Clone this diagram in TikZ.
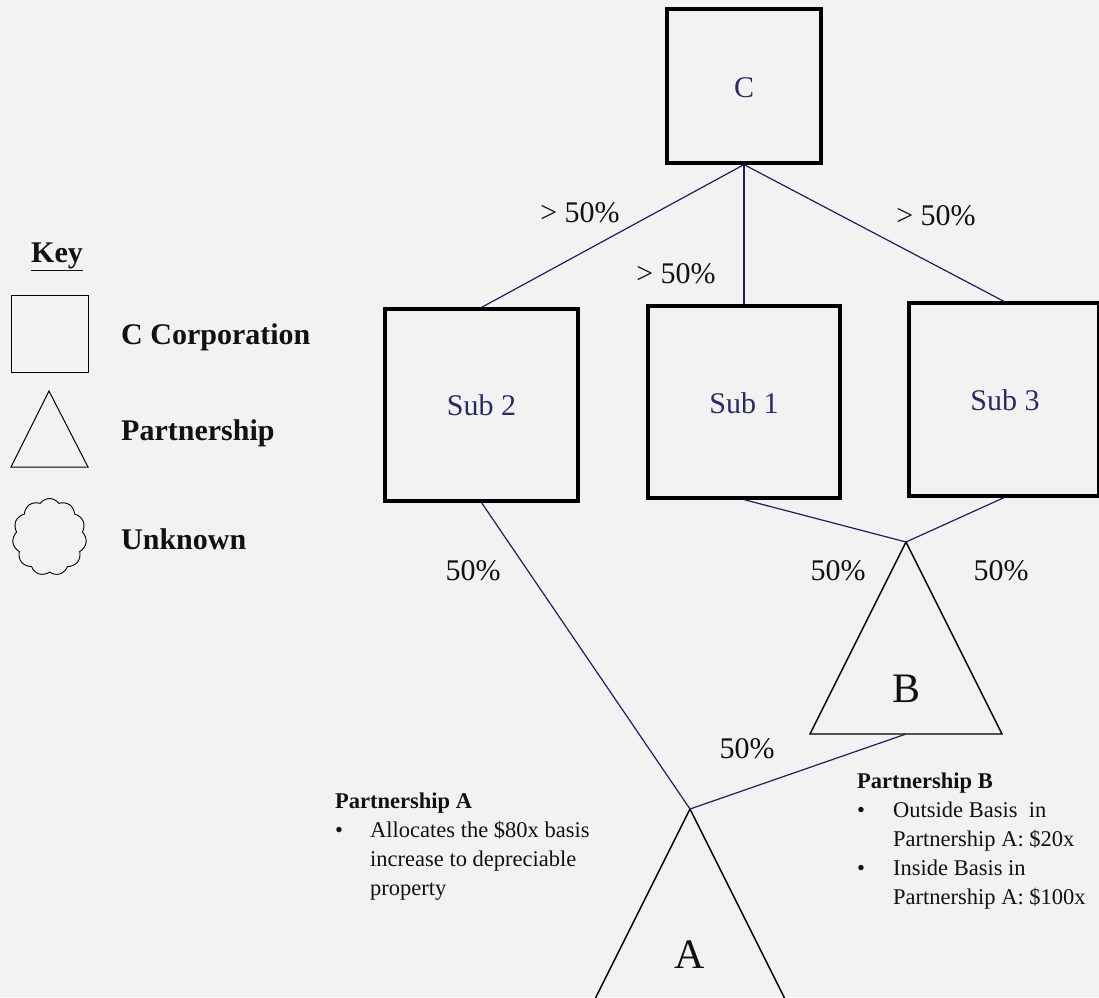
\documentclass[tikz,border=0pt]{standalone}
\usepackage{fontspec}
\setmainfont{Liberation Serif}
\usetikzlibrary{shapes.symbols}
\definecolor{bg}{HTML}{F2F2F2}
\definecolor{navy}{HTML}{1F1F5C}
\definecolor{boxtext}{HTML}{2A2A62}
\definecolor{ink}{HTML}{111111}

\begin{document}
\begin{tikzpicture}[x=1pt,y=-1pt,
  corp/.style={draw=black, line width=3.2pt, inner sep=0pt,
    text=boxtext, font=\fontsize{30}{36}\selectfont},
  link/.style={draw=navy, line width=1.2pt},
  tri/.style={draw=black, line width=1.4pt, line join=miter},
  pct/.style={anchor=base, inner sep=0pt, text=ink, font=\fontsize{30}{36}\selectfont},
  keylbl/.style={anchor=base west, inner sep=0pt, text=ink, font=\fontsize{30}{36}\selectfont\bfseries},
  note/.style={anchor=base west, inner sep=0pt, text=ink, font=\fontsize{22.5}{29}\selectfont},
  letter/.style={anchor=base, inner sep=0pt, text=ink, font=\fontsize{42}{48}\selectfont}]

\fill[bg] (0,0) rectangle (1099,997);
\useasboundingbox (0,0) rectangle (1099,997);
\clip (0,0) rectangle (1099,997);

% key
\node[keylbl] (keyhead) at (31,262) {\underline{Key}};
\node[draw=black, line width=1pt, minimum width=77pt, minimum height=77pt, inner sep=0pt] (keysq) at (49.5,333.5) {};
\node[keylbl] (keycorp) at (121,344) {C Corporation};
\coordinate (ktA) at (49,391);
\coordinate (ktB) at (11,467);
\coordinate (ktC) at (88,467);
\draw[draw=black, line width=1pt] (ktA) -- (ktB) -- (ktC) -- cycle;
\node[keylbl] (keypart) at (121,440) {Partnership};
\node[cloud, cloud puffs=11, cloud puff arc=110, aspect=0.95, draw=black, line width=0.9pt,
      minimum width=74pt, minimum height=77pt, inner sep=0pt] (keycloud) at (49.5,537) {};
\node[keylbl] (keyunk) at (121,549) {Unknown};

% corporations
\node[corp, minimum width=154pt, minimum height=154pt] (C) at (744,86) {};
\node[text=boxtext, anchor=base, inner sep=0pt, font=\fontsize{30}{36}\selectfont] at (744,97) {C};
\node[corp, minimum width=193pt, minimum height=192pt] (S2) at (481.5,405) {};
\node[text=boxtext, anchor=base, inner sep=0pt, font=\fontsize{30}{36}\selectfont] at (481.5,415) {Sub 2};
\node[corp, minimum width=192pt, minimum height=192pt] (S1) at (744,402) {};
\node[text=boxtext, anchor=base, inner sep=0pt, font=\fontsize{30}{36}\selectfont] at (744,413) {Sub 1};
\node[corp, minimum width=190pt, minimum height=193pt] (S3) at (1004,399.5) {};
\node[text=boxtext, anchor=base, inner sep=0pt, font=\fontsize{30}{36}\selectfont] at (1005,410) {Sub 3};

% partnerships
\coordinate (Btop) at (906,542);
\coordinate (Bbase) at (906,734);
\draw[tri] (Btop) -- (810,734) -- (1002,734) -- cycle;
\node[letter] (Blbl) at (906,702) {B};

\coordinate (Atop) at (690,809);
\draw[tri] (594,1001) -- (Atop) -- (786,1001);
\node[letter] (Albl) at (690,968) {A};

% ownership links
\draw[link] (C.south) -- (S2.north);
\draw[link] (C.south) -- (S1.north);
\draw[link] (C.south) -- (S3.north);
\draw[link] (S2.south) -- (Atop);
\draw[link] (S1.south) -- (Btop);
\draw[link] (S3.south) -- (Btop);
\draw[link] (Bbase) -- (Atop);

% percentages
\node[pct] (p1) at (580,222) {> 50\%};
\node[pct] (p2) at (676,283) {> 50\%};
\node[pct] (p3) at (936,225) {> 50\%};
\node[pct] (p4) at (473,580) {50\%};
\node[pct] (p5) at (838,580) {50\%};
\node[pct] (p6) at (1001,580) {50\%};
\node[pct] (p7) at (747,758) {50\%};

% notes
\node[note] (noteA) at (335,808) {\begin{tabular}[t]{@{}p{35pt}@{}l@{}}
  \multicolumn{2}{@{}l@{}}{\textbf{Partnership A}}\\
  \textbullet & Allocates the \$80x basis\\
  & increase to depreciable\\
  & property
\end{tabular}};
\node[note] (noteB) at (857,788) {\begin{tabular}[t]{@{}p{36pt}@{}l@{}}
  \multicolumn{2}{@{}l@{}}{\textbf{Partnership B}}\\
  \textbullet & Outside Basis\ \ in\\
  & Partnership A: \$20x\\
  \textbullet & Inside Basis in\\
  & Partnership A: \$100x
\end{tabular}};
\end{tikzpicture}
\end{document}
